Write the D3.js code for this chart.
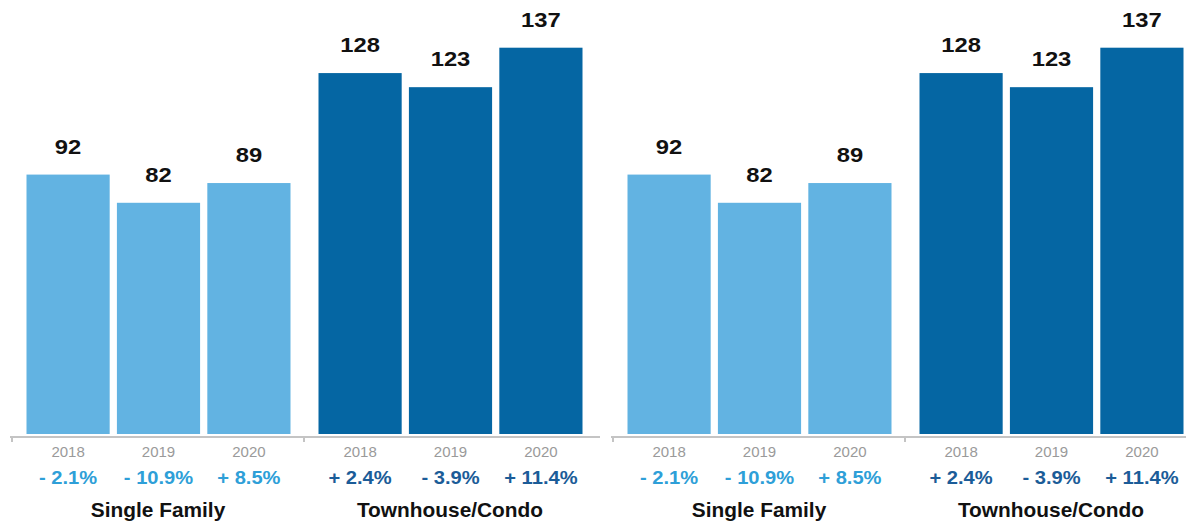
<!DOCTYPE html>
<html>
<head>
<meta charset="utf-8">
<script src="https://cdn.jsdelivr.net/npm/d3@7"></script>
<style>
  html, body { margin: 0; padding: 0; background: #fff; }
  svg { display: block; }
  text { font-family: "Liberation Sans", Arial, Helvetica, sans-serif; }
</style>
</head>
<body>
<svg id="chart" width="1186" height="525"></svg>
<script>
// ---- data ----
const categories = ["Single Family", "Townhouse/Condo"];
const years = ["2018", "2019", "2020"];
const singleFamily = [92, 82, 89];
const townhouseCondo = [128, 123, 137];
const singleFamilyChange = ["- 2.1%", "- 10.9%", "+ 8.5%"];
const townhouseCondoChange = ["+ 2.4%", "- 3.9%", "+ 11.4%"];
const panelCount = 2; // the reference shows the same chart twice, side by side

// ---- build ----
const seriesValues = [singleFamily, townhouseCondo];
const seriesChange = [singleFamilyChange, townhouseCondoChange];
const barColors = ["#62b3e2", "#0566a3"];
const pctColors = ["#2e9fd8", "#1b5c98"];

const svg = d3.select("#chart");
svg.append("rect").attr("width", 1186).attr("height", 525).attr("fill", "#fff");

const panelX = d3.scaleBand().domain(d3.range(panelCount)).range([0, 1202]);
const groupX = d3.scaleBand().domain(categories).range([12, 596]);
const yearX = d3.scaleBand().domain(years).range([14.5, 278.5]).paddingInner(0.08);
const y = d3.scaleLinear().domain([0, 137]).range([434, 47.7]);

function label(g, x, yy, txt, size, weight, fill, sx) {
  g.append("text")
    .attr("transform", `translate(${x},${yy}) scale(${sx},1)`)
    .attr("text-anchor", "middle")
    .attr("font-size", size)
    .attr("font-weight", weight)
    .attr("fill", fill)
    .text(txt);
}

for (let p = 0; p < panelCount; p++) {
  const panel = svg.append("g").attr("transform", `translate(${panelX(p)},0)`);

  // axis line and ticks
  panel.append("line")
    .attr("x1", groupX.range()[0] - 2).attr("x2", 600)
    .attr("y1", 437).attr("y2", 437)
    .attr("stroke", "#c4c4c4").attr("stroke-width", 2);
  categories.forEach(c => {
    panel.append("line")
      .attr("x1", groupX(c)).attr("x2", groupX(c))
      .attr("y1", 436).attr("y2", 442)
      .attr("stroke", "#c4c4c4").attr("stroke-width", 2);
  });

  categories.forEach((c, ci) => {
    const g = panel.append("g").attr("transform", `translate(${groupX(c)},0)`);
    const vals = seriesValues[ci];
    g.selectAll("rect.bar").data(vals).join("rect")
      .attr("class", "bar")
      .attr("x", (d, i) => yearX(years[i]))
      .attr("width", yearX.bandwidth())
      .attr("y", d => y(d))
      .attr("height", d => y(0) - y(d))
      .attr("fill", barColors[ci]);

    vals.forEach((v, i) => {
      const cx = yearX(years[i]) + yearX.bandwidth() / 2;
      label(g, cx, y(v) - 21, String(v), 19.5, "bold", "#111", 1.22);
      label(g, cx, 457, years[i], 15, "normal", "#9a9a9a", 1.0);
      label(g, cx, 484, seriesChange[ci][i], 17.5, "bold", pctColors[ci], 1.15);
    });

    label(g, groupX.bandwidth() / 2, 517, c, 19.5, "bold", "#111", 1.07);
  });
}
</script>
</body>
</html>
